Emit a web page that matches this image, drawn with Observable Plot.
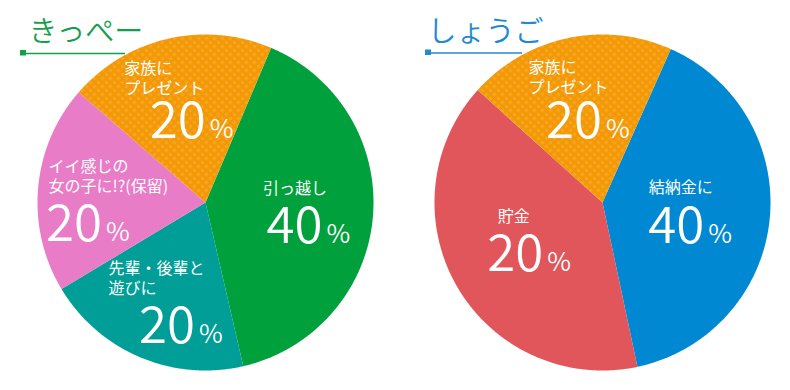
<!DOCTYPE html>
<html>
<head>
<meta charset="utf-8">
<script src="https://cdn.jsdelivr.net/npm/d3@7"></script>
<script src="https://cdn.jsdelivr.net/npm/@observablehq/plot@0.6"></script>
<style>
  html, body { margin: 0; padding: 0; background: #ffffff; }
  #chart svg { display: block; }
</style>
</head>
<body>
<div id="chart"></div>
<script>
// ---- data ----
const people = ["きっぺー", "しょうご"];
const kippeCategories = ["引っ越し", "先輩・後輩と\n遊びに", "イイ感じの\n女の子に!?(保留)", "家族に\nプレゼント"];
const kippeValues = [40, 20, 20, 20];
const kippeLabels = ["40", "20", "20", "20"];
const shogoCategories = ["結納金に", "貯金", "家族に\nプレゼント"];
const shogoValues = [40, 40, 20];          // slice sizes as drawn
const shogoLabels = ["40", "20", "20"];    // percentages as printed
const percentSign = "%";

// ---- styles / layout (not data) ----
const FONT = "'Noto Sans CJK JP', 'Noto Sans', sans-serif";
const W = 790, H = 390, R = 168;
const titleColors = ["#14a04a", "#1f8ad0"];
const kippeColors = ["#00a03c", "#009e96", "#e87cc7", "url(#dots)"];
const shogoColors = ["#0088d2", "#e0565a", "url(#dots)"];
const pies = [
  {cx: 205, cy: 202, start: 23, cats: kippeCategories, vals: kippeValues, labels: kippeLabels, colors: kippeColors,
   // label offsets relative to slice centroid (px): [nameDx, nameDy, numDx, numDy]
   offsets: [[-43, -17.5, 16.5, 31.5], [-57.5, -1, 29, 47.5], [-56.5, -1.5, -3, 47], [-58.5, -10.5, 23, 34]]},
  {cx: 602, cy: 202, start: 24, cats: shogoCategories, vals: shogoValues, labels: shogoLabels, colors: shogoColors,
   offsets: [[-54, -20.5, 1.5, 30], [-17.5, -31, 28, 18], [-53, -11, 20.5, 34]]}
];
const titleLayout = [
  {x: 28, y: 41, lineX1: 20, lineX2: 125, lineY: 53},
  {x: 427, y: 41, lineX1: 425, lineX2: 522, lineY: 52.5}
];

// ---- build slices from values ----
const rad = d => d * Math.PI / 180;
const slices = [], names = [], nums = [];
pies.forEach((p, pi) => {
  const total = d3.sum(p.vals);
  let a = p.start;
  p.vals.forEach((v, i) => {
    const span = v / total * 360;
    const a0 = a, a1 = a + span;
    const pts = [{x: p.cx, y: p.cy}];
    const n = Math.ceil(span * 2);
    for (let k = 0; k <= n; k++) {
      const t = rad(a0 + (a1 - a0) * k / n);
      pts.push({x: p.cx + R * Math.sin(t), y: p.cy - R * Math.cos(t)});
    }
    slices.push({pts, fill: p.colors[i]});
    const mid = rad((a0 + a1) / 2);
    const gx = p.cx + 0.6 * R * Math.sin(mid), gy = p.cy - 0.6 * R * Math.cos(mid);
    const o = p.offsets[i];
    names.push({x: gx + o[0], y: gy + o[1], text: p.cats[i]});
    nums.push({x: gx + o[2], y: gy + o[3], text: p.labels[i]});
    a = a1;
  });
});
const titles = people.map((name, i) => ({name, color: titleColors[i], ...titleLayout[i]}));

const chart = Plot.plot({
  width: W, height: H,
  margin: 0,
  x: {domain: [0, W], range: [0, W], axis: null},
  y: {domain: [0, H], range: [0, H], axis: null},
  style: {fontFamily: FONT, background: "#ffffff"},
  marks: [
    ...slices.map(s => Plot.line(s.pts, {x: "x", y: "y", fill: s.fill, stroke: "none", curve: "linear-closed"})),
    Plot.text(names, {x: "x", y: "y", text: "text", fill: "white", fontSize: 16, lineHeight: 1.25,
      textAnchor: "start", lineAnchor: "bottom", fontFamily: FONT}),
    Plot.text(nums, {x: "x", y: "y", text: "text", fill: "white", fontSize: 51, fontWeight: 350,
      textAnchor: "end", lineAnchor: "bottom", fontFamily: FONT}),
    Plot.text(nums, {x: d => d.x + 4, y: "y", text: () => percentSign, fill: "white", fontSize: 26, fontWeight: 350,
      textAnchor: "start", lineAnchor: "bottom", fontFamily: FONT}),
    Plot.text(titles, {x: "x", y: "y", text: "name", fill: d => d.color, fontSize: 29, fontWeight: 350,
      textAnchor: "start", lineAnchor: "bottom", fontFamily: FONT, letterSpacing: 1.2}),
    Plot.ruleY(titles, {y: "lineY", x1: "lineX1", x2: "lineX2", stroke: d => d.color, strokeWidth: 1.6}),
    Plot.rect(titles, {x1: "lineX1", x2: d => d.lineX1 + 6, y1: d => d.lineY - 3, y2: d => d.lineY + 2.5, fill: d => d.color})
  ]
});

// pattern for the dotted orange slices
const ns = "http://www.w3.org/2000/svg";
const defs = document.createElementNS(ns, "defs");
defs.innerHTML = `<pattern id="dots" width="8" height="8" patternUnits="userSpaceOnUse">
  <rect width="8" height="8" fill="#f39800"/>
  <path d="M1.5 0h1v1.5h1.5v1h-1.5v1.5h-1v-1.5h-1.5v-1h1.5z M5.5 4h1v1.5h1.5v1h-1.5v1.5h-1v-1.5h-1.5v-1h1.5z" fill="#f6aa3a"/>
</pattern>`;
chart.insertBefore(defs, chart.firstChild);
document.getElementById("chart").appendChild(chart);
</script>
</body>
</html>
